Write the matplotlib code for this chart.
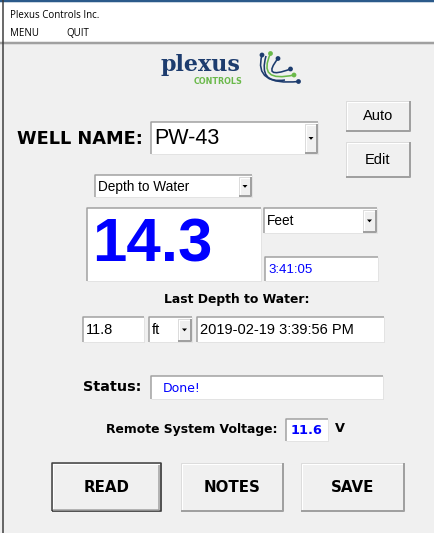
import matplotlib
matplotlib.use('Agg')
import matplotlib.pyplot as plt
from matplotlib.patches import Rectangle, Circle, PathPatch
from matplotlib.path import Path

# window texts / values
window_title = 'Plexus Controls Inc.'
menu_items = ['MENU', 'QUIT']
well_name = 'PW-43'
measure_type = 'Depth to Water'
reading = '14.3'
unit = 'Feet'
read_time = '3:41:05'
last_label = 'Last Depth to Water:'
last_value = '11.8'
last_unit = 'ft'
last_stamp = '2019-02-19 3:39:56 PM'
status_text = 'Done!'
voltage = '11.6'
buttons = ['READ', 'NOTES', 'SAVE']

BG = '#f0f0f0'
BLUE = '#0000ff'
NAVY = '#1d3c6e'
GREEN = '#6ab94a'
BOLD = 'DejaVu Sans'
PLAIN = 'Liberation Sans'
SEGOE = 'Open Sans'
PX = 0.72  # 1 px in points at dpi 100

fig = plt.figure(figsize=(4.35, 5.33), dpi=100)
ax = fig.add_axes([0, 0, 1, 1])
ax.set_xlim(0, 435)
ax.set_ylim(533, 0)
ax.axis('off')


def rect(x0, y0, x1, y1, fc, ec='none', lw=1, z=1):
    ax.add_patch(Rectangle((x0, y0), x1 - x0, y1 - y0, fc=fc, ec=ec,
                           lw=lw * PX, zorder=z))


def line(xs, ys, c, lw=1, z=3):
    ax.plot(xs, ys, color=c, lw=lw * PX, solid_capstyle='butt', zorder=z)


def sunken(x0, y0, x1, y1):
    rect(x0, y0, x1, y1, 'white', z=2)
    line([x0, x0, x1], [y1, y0, y0], '#a0a0a0', 1.5)
    line([x0, x1, x1], [y1, y1, y0], '#e3e3e3', 1)


def raised(x0, y0, x1, y1, focus=False):
    rect(x0, y0, x1, y1, BG, z=2)
    line([x0, x0, x1], [y1, y0, y0], '#dcdcdc', 1)
    line([x0 + 1, x0 + 1, x1 - 1], [y1 - 1, y0 + 1, y0 + 1], 'white', 1)
    line([x0, x1, x1], [y1, y1, y0], '#a0a0a0', 2)
    if focus:
        line([x0, x0, x1, x1, x0], [y1, y0, y0, y1, y1], '#3c3c3c', 1.5)
        line([x0 + 1.5, x1 - 1.5, x1 - 1.5], [y1 - 1.5, y1 - 1.5, y0 + 1.5], '#a0a0a0', 1.5)


def combo(x0, y0, x1, y1, text, size, bw=14):
    sunken(x0, y0, x1, y1)
    raised(x1 - bw, y0 + 2, x1 - 1, y1 - 1)
    cx, cy = x1 - bw / 2 - 0.5, (y0 + y1) / 2
    ax.add_patch(plt.Polygon([[cx - 2.5, cy - 1], [cx + 2.5, cy - 1], [cx, cy + 1.8]],
                             closed=True, fc='black', ec='none', zorder=5))
    ax.text(x0 + 3, cy + 0.5, text, fontsize=size, family=PLAIN, va='center', zorder=5)


# frame, title bar and menu
rect(0, 0, 435, 533, BG, z=0)
rect(0, 0, 435, 43, 'white', z=1)
line([0, 435], [1, 1], '#2b5a8a', 2.5)
line([0, 435], [43, 43], '#a0a0a0', 2.5)
line([3.5, 3.5], [0, 533], '#3c3c3c', 1.5)
ax.text(10, 15, window_title, fontsize=7, family=SEGOE, va='center')
for x, m in zip([10, 66], menu_items):
    ax.text(x, 33, m, fontsize=7, family=SEGOE, va='center')

# logo
ax.text(161, 71, 'plexus', fontsize=16, family='DejaVu Serif', weight='bold',
        color=NAVY, va='baseline')
ax.text(194, 84.5, 'CONTROLS', fontsize=5.8, family='DejaVu Sans', weight='bold',
        color=GREEN, va='baseline')
arcs = [((262, 55), (253, 86), (298.5, 81.5), NAVY),
        ((270.5, 53.5), (257, 83), (294, 75), GREEN),
        ((278, 58.5), (261, 80), (290.5, 69), NAVY),
        ((266, 56), (258, 84), (285, 80), NAVY)]
for p0, c1, p1, col in arcs:
    ax.add_patch(PathPatch(Path([p0, c1, p1], [Path.MOVETO, Path.CURVE3, Path.CURVE3]),
                           fc='none', ec=col, lw=1.6 * PX, zorder=3))
dots = [(262, 55, NAVY), (270.5, 53.5, GREEN), (278, 58.5, NAVY),
        (290.5, 69, NAVY), (294, 75, GREEN), (298.5, 81.5, NAVY)]
for x, y, col in dots:
    ax.add_patch(Circle((x, y), 2.4, fc=col, ec='none', zorder=4))

# well name row
ax.text(17, 139, 'WELL NAME:', fontsize=12.8, family=BOLD, weight='bold', va='center')
combo(151, 122, 318, 154, well_name, 15.5, bw=13)
raised(346, 101, 410, 131)
ax.text(378, 116, 'Auto', fontsize=10.5, family=PLAIN, ha='center', va='center', zorder=5)
raised(346, 142, 410, 177)
ax.text(378, 160, 'Edit', fontsize=10.5, family=PLAIN, ha='center', va='center', zorder=5)

combo(95, 175, 252, 197, measure_type, 9.8, bw=13)

# reading
sunken(87, 208, 261, 281)
ax.text(92, 245.5, reading, fontsize=44.5, family=PLAIN, weight='bold', color=BLUE,
        va='center', zorder=5)
combo(264, 208, 377, 233, unit, 9.8, bw=14)
sunken(265, 257, 378, 281)
ax.text(268, 270, read_time, fontsize=9.5, family=PLAIN, color=BLUE, va='center', zorder=5)

# last reading
ax.text(237, 300, last_label, fontsize=8.9, family=BOLD, weight='bold',
        ha='center', va='center')
sunken(83, 317, 144, 342)
ax.text(86, 330, last_value, fontsize=10.5, family=PLAIN, va='center', zorder=5)
combo(149, 317, 192, 342, last_unit, 10.5, bw=14)
sunken(197, 317, 384, 342)
ax.text(200, 330, last_stamp, fontsize=10.5, family=PLAIN, va='center', zorder=5)

# status and voltage
ax.text(83, 387, 'Status:', fontsize=10.4, family=BOLD, weight='bold', va='center')
sunken(151, 376, 383, 399)
ax.text(163, 388, status_text, fontsize=9, family='DejaVu Sans', color=BLUE,
        va='center', zorder=5)
ax.text(106, 429, 'Remote System Voltage:', fontsize=8.9, family=BOLD, weight='bold',
        va='center')
sunken(286, 419, 328, 441)
ax.text(307, 430, voltage, fontsize=9.3, family=BOLD, weight='bold', color=BLUE,
        ha='center', va='center', zorder=5)
ax.text(335, 429, 'V', fontsize=9.3, family=BOLD, weight='bold', va='center')

# bottom buttons
for (x0, x1), b in zip([(52, 161), (181, 283), (301, 404)], buttons):
    raised(x0, 463, x1, 511, focus=(b == 'READ'))
    ax.text((x0 + x1) / 2, 487.5, b, fontsize=10.8, family=BOLD, weight='bold',
            ha='center', va='center', zorder=5)

fig.savefig('out.png', dpi=100, facecolor=BG)
